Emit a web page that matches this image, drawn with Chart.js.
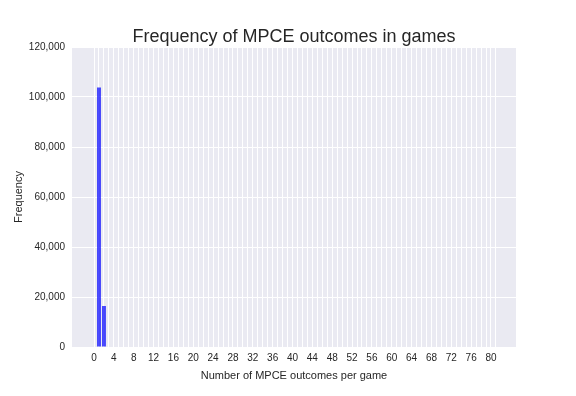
<!DOCTYPE html>
<html>
<head>
<meta charset="UTF-8">
<title>Frequency of MPCE outcomes in games</title>
<script src="https://cdn.jsdelivr.net/npm/chart.js"></script>
<style>
    html, body { margin: 0; padding: 0; background: #ffffff; }
    #wrap { width: 576px; height: 396px; }
</style>
</head>
<body>
<div id="wrap"><canvas id="chart"></canvas></div>
<script>
    // outcomes per game and how many games had them
    const outcomes = [1, 2];
    const counts = [103800, 16400];
    const gridPositions = Array.from({length: 82}, (_, i) => i); // 0..81
    const yTicks = [0, 20000, 40000, 60000, 80000, 100000, 120000];
    const chartTitle = 'Frequency of MPCE outcomes in games';

    const ink = '#262626';
    const font = 'Liberation Sans, Arial, sans-serif';

    new Chart(document.getElementById('chart'), {
        type: 'bar',
        data: {
            datasets: [{
                data: outcomes.map((x, i) => ({x: x, y: counts[i]})),
                backgroundColor: 'rgba(0, 0, 255, 0.7)',
                borderWidth: 0,
                barPercentage: 0.8,
                categoryPercentage: 1.0
            }]
        },
        options: {
            responsive: true,
            maintainAspectRatio: false,
            animation: false,
            layout: { padding: { left: 12, right: 60, top: 47, bottom: 13 } },
            plugins: {
                legend: { display: false },
                tooltip: { enabled: false },
                title: { display: false }
            },
            scales: {
                x: {
                    type: 'linear',
                    offset: false,
                    min: -4.44,
                    max: 85.04,
                    afterBuildTicks: s => { s.ticks = gridPositions.map(v => ({value: v})); },
                    afterFit: s => { s.height = 36; },
                    grid: { color: '#ffffff', lineWidth: 1, drawTicks: false, offset: false },
                    border: { display: false },
                    ticks: {
                        autoSkip: false,
                        maxRotation: 0,
                        padding: 5,
                        color: ink,
                        font: { family: font, size: 10 },
                        callback: v => (v % 4 === 0 && v <= 80) ? String(v) : ''
                    },
                    title: {
                        display: true,
                        text: 'Number of MPCE outcomes per game',
                        color: ink,
                        font: { family: font, size: 11 },
                        padding: { top: 2, bottom: 0 }
                    }
                },
                y: {
                    min: 0,
                    max: 120000,
                    afterBuildTicks: s => { s.ticks = yTicks.map(v => ({value: v})); },
                    afterFit: s => { s.width = 60; },
                    grid: { color: '#ffffff', lineWidth: 1, drawTicks: false },
                    border: { display: false },
                    ticks: {
                        padding: 7,
                        color: ink,
                        font: { family: font, size: 10 },
                        callback: v => v.toLocaleString('en-US')
                    },
                    title: {
                        display: true,
                        text: 'Frequency',
                        color: ink,
                        font: { family: font, size: 11 },
                        padding: { top: 0, bottom: 2 }
                    }
                }
            }
        },
        plugins: [{
            id: 'plotBg',
            beforeDraw: c => {
                const a = c.chartArea, ctx = c.ctx;
                ctx.save();
                ctx.fillStyle = '#EAEAF2';
                ctx.fillRect(a.left, a.top, a.right - a.left, a.bottom - a.top);
                ctx.restore();
            },
            afterDraw: c => {
                const a = c.chartArea, ctx = c.ctx;
                ctx.save();
                ctx.fillStyle = ink;
                ctx.font = '18px ' + font;
                ctx.textAlign = 'center';
                ctx.textBaseline = 'alphabetic';
                ctx.fillText(chartTitle, (a.left + a.right) / 2, 42);
                ctx.restore();
            }
        }]
    });
</script>
</body>
</html>
